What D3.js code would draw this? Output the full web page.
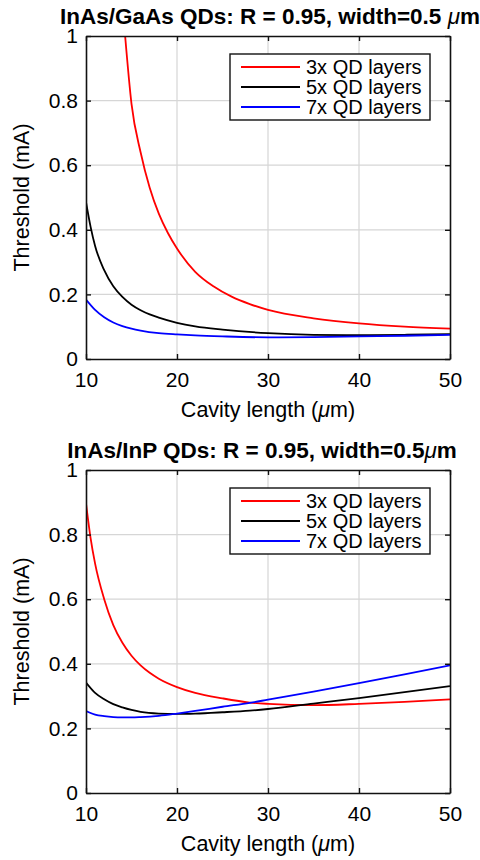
<!DOCTYPE html>
<html lang="en">
<head>
<meta charset="UTF-8">
<title>QD threshold vs cavity length</title>
<style>
	*{margin:0;padding:0;}
	body{background:#fff;}
	svg text{font-family:"Liberation Sans",Arial,Helvetica,sans-serif;fill:#000;}
</style>
</head>
<body>
<div id="container"></div>
<script src="https://cdn.jsdelivr.net/npm/d3@7"></script>
<script>
// cavity length (um) / threshold (mA)
var gaasL3 = [14.3,15,16,17,18,19,20,22,24,26,28,30,35,40,45,50]
var gaasI3 = [1.0,0.79,0.64,0.53,0.45,0.39,0.342,0.27,0.225,0.193,0.17,0.152,0.126,0.11,0.1,0.094]
var gaasL5 = [10,10.5,11,12,13,14,15,16,17,18,20,22,25,30,35,40,45,50]
var gaasI5 = [0.486,0.41,0.35,0.275,0.225,0.192,0.168,0.151,0.138,0.128,0.112,0.101,0.091,0.08,0.075,0.074,0.075,0.077]
var gaasL7 = [10,11,12,13,14,15,16,18,20,22,25,30,35,40,45,50]
var gaasI7 = [0.184,0.152,0.129,0.113,0.102,0.094,0.088,0.08,0.076,0.073,0.07,0.067,0.068,0.07,0.072,0.075]

var inpL3 = [10,10.5,11,12,13,14,15,16,17,18,20,22,25,28,30,35,40,45,50]
var inpI3 = [0.897,0.79,0.71,0.6,0.52,0.465,0.425,0.395,0.372,0.354,0.328,0.31,0.293,0.28,0.276,0.272,0.276,0.282,0.29]
var inpL5 = [10,11,12,13,14,15,16,18,20,22,25,28,30,35,40,45,50]
var inpI5 = [0.342,0.31,0.29,0.275,0.265,0.257,0.251,0.246,0.245,0.246,0.25,0.255,0.26,0.277,0.294,0.312,0.331]
var inpL7 = [10,11,12,13,14,15,16,18,20,22,25,28,30,35,40,45,50]
var inpI7 = [0.254,0.243,0.238,0.235,0.234,0.234,0.235,0.239,0.246,0.254,0.267,0.279,0.289,0.314,0.34,0.367,0.395]

var seriesNames = ['3x QD layers','5x QD layers','7x QD layers']
var seriesColors = ['#ff0000','#000000','#0000ff']
var xTicks = [10,20,30,40,50]
var yTicks = [0,0.2,0.4,0.6,0.8,1]
var yTickLabels = ['0','0.2','0.4','0.6','0.8','1']

var W = 480, H = 860
var svg = d3.select('#container').append('svg').attr('width', W).attr('height', H)

function zip(xs, ys) { return xs.map(function (v, i) { return [v, ys[i]] }) }

var panels = [
	{top: 36, title: 'InAs/GaAs QDs: R = 0.95, width=0.5 ', tcx: 270, ty: 24,
	 lines: [zip(gaasL3, gaasI3), zip(gaasL5, gaasI5), zip(gaasL7, gaasI7)]},
	{top: 470, title: 'InAs/InP QDs: R = 0.95, width=0.5', tcx: 262, ty: 458,
	 lines: [zip(inpL3, inpI3), zip(inpL5, inpI5), zip(inpL7, inpI7)]}
]

var left = 86, pw = 364, ph = 323

panels.forEach(function (p, pi) {
	var x = d3.scaleLinear().domain([10, 50]).range([0, pw])
	var y = d3.scaleLinear().domain([0, 1]).range([ph, 0])
	var g = svg.append('g').attr('transform', 'translate(' + left + ',' + p.top + ')')

	// grid
	g.selectAll('.gx').data(xTicks.slice(1, -1)).enter().append('line')
		.attr('x1', function (d) { return x(d) }).attr('x2', function (d) { return x(d) })
		.attr('y1', 0).attr('y2', ph)
		.attr('stroke', '#d6d6d6').attr('stroke-width', 1.2)
	g.selectAll('.gy').data(yTicks.slice(1, -1)).enter().append('line')
		.attr('y1', function (d) { return y(d) }).attr('y2', function (d) { return y(d) })
		.attr('x1', 0).attr('x2', pw)
		.attr('stroke', '#d6d6d6').attr('stroke-width', 1.2)

	// curves
	var clipId = 'clip' + pi
	g.append('clipPath').attr('id', clipId).append('rect').attr('width', pw).attr('height', ph)
	var line = d3.line().x(function (d) { return x(d[0]) }).y(function (d) { return y(d[1]) })
		.curve(d3.curveMonotoneX)
	g.append('g').attr('clip-path', 'url(#' + clipId + ')')
		.selectAll('path').data(p.lines).enter().append('path')
		.attr('d', line)
		.attr('fill', 'none')
		.attr('stroke', function (d, i) { return seriesColors[i] })
		.attr('stroke-width', 1.8)

	// axes, MATLAB style: ticks inward on all four sides
	var ax = [
		g.append('g').attr('transform', 'translate(0,' + ph + ')')
			.call(d3.axisBottom(x).tickValues(xTicks).tickSize(-5).tickSizeOuter(0).tickPadding(13).tickFormat(d3.format('d'))),
		g.append('g')
			.call(d3.axisTop(x).tickValues(xTicks).tickSize(-5).tickSizeOuter(0).tickFormat('')),
		g.append('g')
			.call(d3.axisLeft(y).tickValues(yTicks).tickSize(-5).tickSizeOuter(0).tickPadding(8)
				.tickFormat(function (d, i) { return yTickLabels[i] })),
		g.append('g').attr('transform', 'translate(' + pw + ',0)')
			.call(d3.axisRight(y).tickValues(yTicks).tickSize(-5).tickSizeOuter(0).tickFormat(''))
	]
	ax.forEach(function (a) {
		a.select('.domain').attr('stroke', '#111').attr('stroke-width', 1.6)
		a.selectAll('.tick line').attr('stroke', '#111').attr('stroke-width', 1.4)
		a.selectAll('.tick text').attr('font-size', 21).attr('fill', '#000')
			.style('font-family', '"Liberation Sans",Arial,sans-serif')
	})

	// title
	var t = svg.append('text').attr('x', p.tcx).attr('y', p.ty)
		.attr('text-anchor', 'middle').attr('font-size', 22.5).attr('font-weight', 'bold')
	t.append('tspan').text(p.title)
	t.append('tspan').attr('font-style', 'italic').attr('font-weight', 'normal').text('\u03bc')
	t.append('tspan').text('m')

	// axis labels
	var xl = svg.append('text').attr('x', left + pw / 2).attr('y', p.top + ph + 58)
		.attr('text-anchor', 'middle').attr('font-size', 21.5)
	xl.append('tspan').text('Cavity length (')
	xl.append('tspan').attr('font-style', 'italic').text('\u03bc')
	xl.append('tspan').text('m)')
	svg.append('text')
		.attr('transform', 'translate(29,' + (p.top + ph / 2) + ') rotate(-90)')
		.attr('text-anchor', 'middle').attr('font-size', 21.5)
		.text('Threshold (mA)')

	// legend
	var lg = g.append('g').attr('transform', 'translate(' + (230 - left) + ',' + (18) + ')')
	lg.append('rect').attr('width', 200).attr('height', 66)
		.attr('fill', '#fff').attr('stroke', '#111').attr('stroke-width', 1.4)
	var row = lg.selectAll('.row').data(seriesNames).enter().append('g')
		.attr('transform', function (d, i) { return 'translate(0,' + (13 + i * 20) + ')' })
	row.append('line').attr('x1', 11).attr('x2', 70)
		.attr('stroke', function (d, i) { return seriesColors[i] }).attr('stroke-width', 1.8)
	row.append('text').attr('x', 76).attr('dy', '0.36em').attr('font-size', 20)
		.text(function (d) { return d })
})
</script>
</body>
</html>
